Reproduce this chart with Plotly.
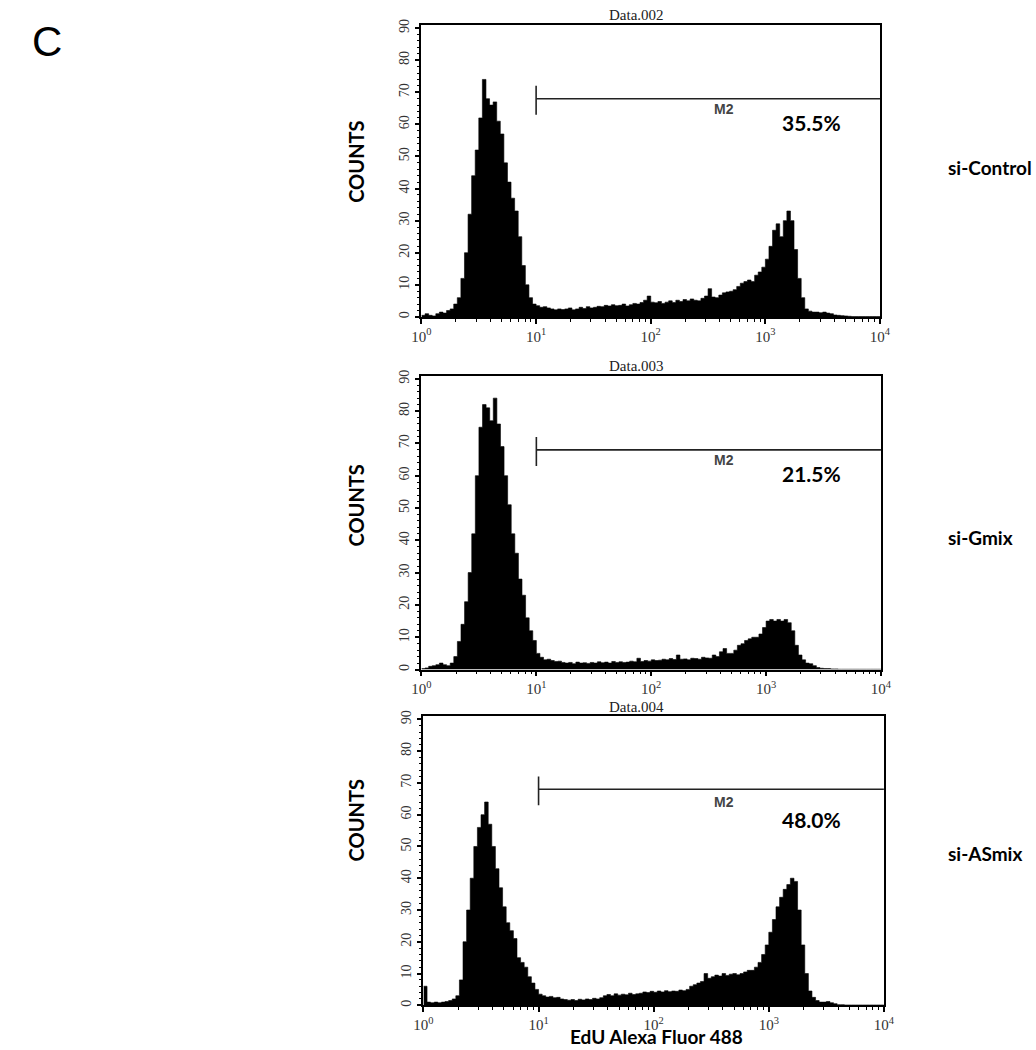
import numpy as np
import plotly.graph_objects as go

# EdU channel counts, 32 channels per decade over 10^0..10^4 (128 channels)
si_control = [
    0.5, 1.0, 0.5, 0.3, 1.0, 1.5, 1.2, 2.0, 2.5, 4.0,
    6, 12, 20, 32, 44, 52, 62, 74, 68, 66,
    67, 61, 57, 48, 42, 37, 33, 25, 16, 10,
    6, 4, 3.5, 3.0, 3.2, 2.8, 2.5, 2.2, 2.5, 2.3,
    2.5, 2.8, 2.2, 2.5, 3.0, 2.6, 3.2, 2.8, 3.0, 3.3,
    3.2, 3.6, 3.4, 3.8, 3.5, 3.6, 4.0, 3.4, 3.8, 4.2,
    4.0, 4.5, 5.2, 6.5, 4.6, 4.4, 4.8, 4.2, 4.6, 5.0,
    4.5, 5.2, 4.8, 5.4, 5.0, 5.6, 5.2, 5.0, 5.8, 6.5,
    8.8, 6.2, 6.0, 6.8, 7.5, 7.8, 8.0, 8.5, 9.5, 10.5,
    11.0, 11.5, 11.0, 13.0, 14.0, 15.5, 18.0, 22.0, 27.0, 29.0,
    25.0, 30.0, 33.0, 30.0, 21.0, 12.0, 6.0, 2.5, 1.8, 1.5,
    1.5, 1.3, 1.5, 1.2, 1.0, 0.6, 0.5, 0.4, 0.3, 0.2,
    0.1, 0.1, 0.1, 0.1, 0.1, 0.1, 0.1, 0.1,
]
si_gmix = [
    0.3, 0.5, 1.0, 1.2, 1.5, 2.0, 1.5, 1.2, 2.0, 4.0,
    8.7, 14, 21, 30, 42, 60, 75, 82, 81, 77,
    84, 76, 69, 60, 51, 42, 36, 28, 23, 16,
    12, 9, 5, 3.8, 3.0, 3.2, 2.8, 2.5, 2.6, 2.2,
    2.0, 2.2, 1.8, 2.3, 2.0, 2.1, 1.9, 2.2, 2.0, 2.4,
    2.1, 2.3, 2.0, 2.5, 2.2, 2.4, 2.2, 2.3, 2.6, 2.4,
    3.5, 2.5, 2.8, 2.6, 3.0, 2.8, 2.9, 3.2, 3.0, 3.4,
    3.1, 4.5, 3.2, 3.3, 3.0, 3.5, 3.4, 3.2, 3.8, 3.6,
    3.5, 4.5, 4.0, 5.5, 6.5, 5.0, 5.0, 6.0, 7.5, 8.0,
    9.0, 9.5, 10.0, 10.0, 11.0, 13.0, 15.0, 15.5, 15.0, 15.5,
    15.0, 15.5, 14.5, 12.0, 7.5, 4.5, 3.0, 2.0, 1.8, 1.2,
    0.6, 0.4, 0.3, 0.3, 0.2, 0.2, 0.1, 0.1, 0.1, 0.1,
    0.1, 0.1, 0.1, 0.1, 0.1, 0.1, 0.1, 0.1,
]
si_asmix = [
    6.0, 1.0, 0.8, 1.0, 0.8, 1.0, 1.2, 1.5, 2.0, 3.0,
    8, 20, 30, 40, 50, 56, 60, 64, 57, 50,
    43, 37, 31, 26, 23.5, 21, 15, 13.5, 12, 9,
    7, 5, 3.5, 3.0, 2.6, 2.8, 2.4, 2.5, 2.0, 1.8,
    1.6, 1.8, 1.5, 1.9, 1.7, 2.0, 1.8, 2.2, 2.0, 2.4,
    3.0, 3.4, 3.0, 3.6, 3.2, 3.5, 3.3, 3.8, 3.4, 3.6,
    3.8, 4.2, 4.0, 4.4, 4.1, 4.5, 4.2, 4.6, 4.3, 4.5,
    4.4, 4.8, 4.6, 5.0, 6.0, 6.5, 7.0, 7.5, 10.0, 8.5,
    9.0, 9.5, 9.2, 10.0, 9.4, 9.8, 10.0, 9.6, 10.0, 10.5,
    11.0, 11.0, 12.0, 13.5, 16.0, 19.0, 23.0, 27.0, 31.0, 34.0,
    36.5, 38.0, 40.0, 39.0, 30.0, 19.0, 10.0, 4.5, 2.5, 1.5,
    1.0, 1.0, 1.2, 0.8, 0.5, 0.2, 0.2, 0.1, 0.1, 0.1,
    0.1, 0.1, 0.1, 0.1, 0.1, 0.1, 0.1, 0.1,
]

samples = ["si-Control", "si-Gmix", "si-ASmix"]
files = ["Data.002", "Data.003", "Data.004"]
m2_pct = ["35.5%", "21.5%", "48.0%"]
series = [si_control, si_gmix, si_asmix]

gate_lo, gate_hi, gate_y = 10, 10000, 68
gate_cap = [63, 72]

x_ticks = [1, 10, 100, 1000, 10000]
x_ticktext = ["10<sup>0</sup>", "10<sup>1</sup>", "10<sup>2</sup>", "10<sup>3</sup>", "10<sup>4</sup>"]
y_ticks = list(range(0, 100, 10))

W, H = 1036, 1050
per_decade = 32
edges = 10 ** (np.arange(len(si_control) + 1) / per_decade)

# plot boxes in page pixels: left, right, top, bottom
boxes = [(420, 888, 19, 313), (420, 889, 372, 668), (422, 892, 715, 1006)]

fig = go.Figure()
serif = "Liberation Serif"
sans = "Lato"

for k, vals in enumerate(series):
    xa = "x" if k == 0 else f"x{k+1}"
    ya = "y" if k == 0 else f"y{k+1}"
    fig.add_trace(go.Scatter(
        x=edges, y=list(vals) + [vals[-1]], mode="lines", line_shape="hv",
        line=dict(color="black", width=0.6), fill="tozeroy", fillcolor="black",
        xaxis=xa, yaxis=ya, showlegend=False, hoverinfo="skip"))
    fig.add_trace(go.Scatter(
        x=[gate_lo, gate_lo, None, gate_lo, gate_hi],
        y=[gate_cap[0], gate_cap[1], None, gate_y, gate_y],
        mode="lines", line=dict(color="#222", width=1.6),
        xaxis=xa, yaxis=ya, showlegend=False, hoverinfo="skip"))

    l, r, t, b = boxes[k]
    suf = "" if k == 0 else str(k + 1)
    minor_x = [m * 10 ** d for d in range(4) for m in range(2, 10)]
    fig.layout["xaxis" + suf] = dict(
        type="log", range=[0, 4], domain=[l / W, r / W], anchor=ya,
        showline=True, linecolor="black", linewidth=1.5, mirror=True,
        ticks="outside", ticklen=5, tickwidth=1.5, tickcolor="black",
        tickvals=x_ticks, ticktext=x_ticktext, showgrid=False, zeroline=False,
        tickfont=dict(family=serif, size=15, color="#333"),
        minor=dict(tickvals=minor_x, ticks="outside", ticklen=3, tickwidth=1.2, tickcolor="black"))
    fig.layout["yaxis" + suf] = dict(
        range=[0, 91], domain=[1 - b / H, 1 - t / H], anchor=xa,
        showline=True, linecolor="black", linewidth=1.5, mirror=True,
        ticks="outside", ticklen=5, tickwidth=1.5, tickcolor="black",
        tickvals=y_ticks, tickangle=-90, showgrid=False, zeroline=False,
        tickfont=dict(family=serif, size=14, color="#333"),
        minor=dict(dtick=2, ticks="outside", ticklen=3, tickwidth=1.2, tickcolor="black"))


def note(text, x, y, size, family=sans, color="black", bold=True, angle=0, xanchor="center"):
    fig.add_annotation(
        text=f"<b>{text}</b>" if bold else text, x=x / W, y=1 - y / H,
        xref="paper", yref="paper", showarrow=False, textangle=angle,
        xanchor=xanchor, yanchor="middle",
        font=dict(family=family, size=size, color=color))


title_y = [9, 362, 706]
m2_y = [104, 457, 801]
pct_y = [117, 471, 819]
count_y = [157, 503, 820]
label_y = [163, 535, 853]
for k in range(3):
    note(files[k], 639, title_y[k], 15, family=serif, color="#222", bold=False)
    note("M2", 729, m2_y[k], 14, family="Liberation Sans", color="#444")
    note(m2_pct[k], 818, pct_y[k], 21)
    note("COUNTS", 353, count_y[k], 20, angle=-90)
    note(samples[k], 955, label_y[k], 19, xanchor="left")

note("C", 38, 36, 42, family="Liberation Sans", bold=False)
note("EdU Alexa Fluor 488", 660, 1037, 19)

fig.update_layout(width=W, height=H, margin=dict(l=0, r=0, t=0, b=0),
                  paper_bgcolor="white", plot_bgcolor="white")
# drop the default body margin so the figure fills the window exactly
fig.write_html("out.html", config={"displayModeBar": False},
               post_script="document.body.style.margin = '0';")
